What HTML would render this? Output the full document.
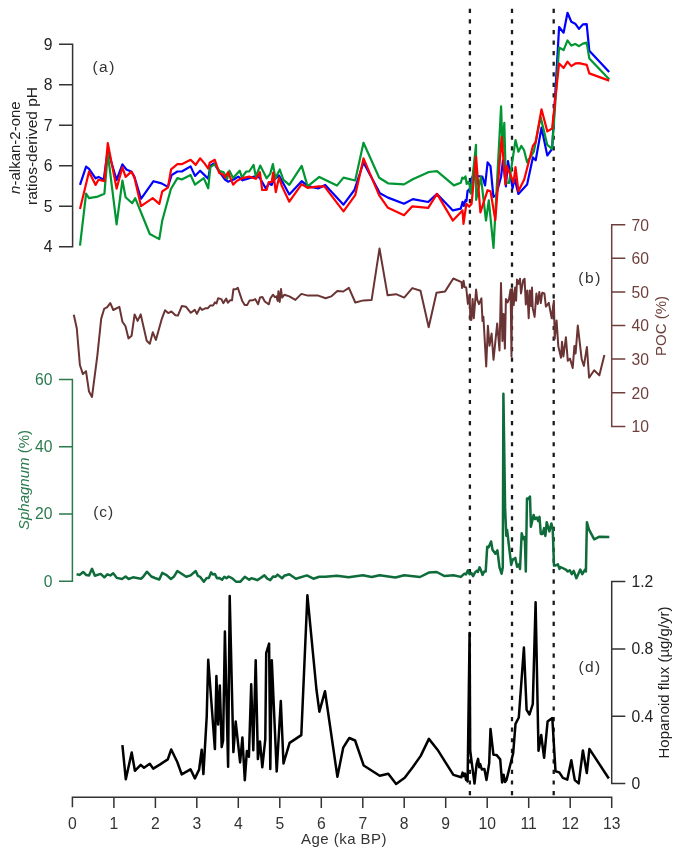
<!DOCTYPE html>
<html><head><meta charset="utf-8">
<style>
html,body{margin:0;padding:0;background:#fff;}
body{width:683px;height:856px;overflow:hidden;}
svg{display:block;font-family:"Liberation Sans",sans-serif;will-change:transform;}
</style></head>
<body>
<svg width="683" height="856" viewBox="0 0 683 856">
<!-- panel a axis -->
<g stroke="#333" stroke-width="1.5" fill="none">
<path d="M59,44.2H72.6V246.7H59 M59,84.7H72.6 M59,125.2H72.6 M59,165.7H72.6 M59,206.2H72.6"/>
</g>
<g font-size="15.7" fill="#222" text-anchor="end">
<text x="52.5" y="49.5">9</text>
<text x="52.5" y="90">8</text>
<text x="52.5" y="130.5">7</text>
<text x="52.5" y="171">6</text>
<text x="52.5" y="211.5">5</text>
<text x="52.5" y="252">4</text>
</g>
<g font-size="15" fill="#222" text-anchor="middle">
<text transform="translate(20.4,147.6) rotate(-90)"><tspan font-style="italic">n</tspan>-alkan-2-one</text>
<text transform="translate(37.3,146) rotate(-90)" font-size="15.5">ratios-derived pH</text>
</g>
<text x="92.4" y="71.8" font-size="15.5" letter-spacing="1.5" fill="#333">(a)</text>

<!-- panel b axis -->
<g stroke="#6e3f3c" stroke-width="1.5" fill="none">
<path d="M625.3,224.7H611.7V426.4H625.3 M611.7,258.3H625.3 M611.7,291.9H625.3 M611.7,325.5H625.3 M611.7,359.1H625.3 M611.7,392.7H625.3"/>
</g>
<g font-size="15.7" fill="#6e3f3c">
<text x="631.5" y="230.5">70</text>
<text x="631.5" y="264.1">60</text>
<text x="631.5" y="297.7">50</text>
<text x="631.5" y="331.3">40</text>
<text x="631.5" y="364.9">30</text>
<text x="631.5" y="398.5">20</text>
<text x="631.5" y="432.1">10</text>
</g>
<text transform="translate(665.5,326) rotate(-90)" font-size="15" fill="#6e3f3c" text-anchor="middle">POC (%)</text>
<text x="578.2" y="283.3" font-size="15.5" letter-spacing="1.7" fill="#333">(b)</text>

<!-- panel c axis -->
<g stroke="#2a7a4e" stroke-width="1.5" fill="none">
<path d="M59,379.6H72.4V581.3H59 M59,446.8H72.4 M59,514.1H72.4"/>
</g>
<g font-size="15.7" fill="#2a7a4e" text-anchor="end">
<text x="52.5" y="385">60</text>
<text x="52.5" y="452">40</text>
<text x="52.5" y="519.4">20</text>
<text x="52.5" y="586.6">0</text>
</g>
<text transform="translate(29,480) rotate(-90)" font-size="15" fill="#2a7a4e" text-anchor="middle"><tspan font-style="italic">Sphagnum</tspan> (%)</text>
<text x="93.3" y="517" font-size="15.5" letter-spacing="0.9" fill="#333">(c)</text>

<!-- panel d axis -->
<g stroke="#333" stroke-width="1.5" fill="none">
<path d="M625.3,581.6H611.7V783.6H625.3 M611.7,649H625.3 M611.7,716.3H625.3"/>
</g>
<g font-size="15.7" fill="#222">
<text x="631.5" y="587">1.2</text>
<text x="631.5" y="654.3">0.8</text>
<text x="631.5" y="721.6">0.4</text>
<text x="631.5" y="789">0</text>
</g>
<text transform="translate(668.6,682.5) rotate(-90)" font-size="15" fill="#222" text-anchor="middle">Hopanoid flux (µg/g/yr)</text>
<text x="578.4" y="671.9" font-size="15.5" letter-spacing="1.4" fill="#333">(d)</text>

<!-- x axis -->
<g stroke="#333" stroke-width="1.5" fill="none">
<path d="M72.4,807.3V797.2H611.7V808 M113.9,797.2V808 M155.4,797.2V808 M196.8,797.2V808 M238.3,797.2V808 M279.8,797.2V808 M321.3,797.2V808 M362.8,797.2V808 M404.2,797.2V808 M445.7,797.2V808 M487.2,797.2V808 M528.7,797.2V808 M570.2,797.2V808"/>
</g>
<g font-size="15.7" fill="#333" text-anchor="middle">
<text x="72.4" y="828.5">0</text>
<text x="113.9" y="828.5">1</text>
<text x="155.4" y="828.5">2</text>
<text x="196.8" y="828.5">3</text>
<text x="238.3" y="828.5">4</text>
<text x="279.8" y="828.5">5</text>
<text x="321.3" y="828.5">6</text>
<text x="362.8" y="828.5">7</text>
<text x="404.2" y="828.5">8</text>
<text x="445.7" y="828.5">9</text>
<text x="487.2" y="828.5">10</text>
<text x="528.7" y="828.5">11</text>
<text x="570.2" y="828.5">12</text>
<text x="611.7" y="828.5">13</text>
</g>
<text x="344" y="844" font-size="15" letter-spacing="0.45" fill="#333" text-anchor="middle">Age (ka BP)</text>

<!-- dashed -->
<g stroke="#1a1a1a" stroke-width="2.3" stroke-dasharray="4.2 6.37" fill="none">
<path d="M469.9,8.8V795.2 M512,8.8V795.2 M553.7,8.8V795.2"/>
</g>
<!--DATA_A-->
<g fill="none" stroke-width="2.2" stroke-linejoin="round">
<polyline stroke="#0000ff" points="80.0,184.9 86.1,166.6 89.0,168.8 95.6,178.3 98.5,176.9 103.7,179.8 107.8,150.0 116.6,180.0 122.4,164.4 126.4,169.5 131.5,171.7 134.4,176.9 141.0,198.8 153.5,181.2 161.5,183.4 167.9,186.9 171.6,175.1 177.4,171.5 181.8,171.5 190.6,166.4 195.0,175.9 200.1,170.7 203.8,174.4 208.2,178.8 210.4,165.6 214.0,163.4 219.2,171.5 225.0,179.5 228.0,181.7 233.8,179.5 238.2,176.6 242.6,180.3 248.5,178.4 254.3,176.6 259.4,177.3 265.9,188.6 268.8,183.4 271.7,184.9 273.9,179.8 279.0,175.4 289.3,194.4 301.7,181.2 308.3,186.4 318.6,188.3 325.2,184.9 343.5,204.7 354.4,190.0 363.5,162.5 379.9,193.2 388.0,197.6 404.0,203.7 412.8,199.1 428.2,202.0 437.0,193.9 452.9,210.4 460.8,208.6 462.6,201.8 463.8,205.9 465.5,200.1 466.5,201.0 467.6,190.7 469.0,190.1 470.2,187.2 471.4,178.5 472.5,176.7 477.0,176.0 482.3,176.5 485.1,185.5 487.6,162.3 490.5,166.1 493.4,196.9 496.2,195.0 501.0,177.0 503.0,160.3 505.9,186.3 508.0,161.0 512.6,188.3 514.5,178.0 518.4,194.0 527.1,184.4 532.9,157.4 535.7,160.3 541.5,127.6 547.3,155.5 552.1,148.8 559.1,27.0 563.6,32.7 567.5,12.8 571.3,21.8 575.2,23.7 579.0,28.9 582.9,24.4 586.7,24.1 589.3,50.7 609.2,72.1"/>
<polyline stroke="#009632" points="80.0,245.7 86.1,193.7 89.0,198.1 97.8,196.6 104.4,193.7 107.8,153.4 116.6,224.4 122.4,180.5 125.6,197.3 132.2,203.2 135.2,198.1 149.8,234.0 159.3,239.1 162.2,220.8 170.9,189.0 177.4,178.1 181.8,179.5 190.6,175.1 195.0,184.7 203.8,178.1 208.2,188.3 210.4,167.1 214.8,164.2 219.2,170.7 223.6,172.2 227.2,178.8 229.4,170.7 233.1,178.1 239.7,170.7 241.9,177.3 246.3,171.5 249.2,171.5 253.6,164.9 255.8,176.6 260.2,165.6 266.6,178.3 270.2,173.9 272.9,164.0 275.4,178.3 279.8,169.5 283.4,179.8 289.3,184.9 301.7,165.9 307.6,186.4 319.3,176.9 336.9,185.6 343.5,177.6 355.2,180.5 363.5,142.7 379.2,177.8 388.0,183.3 404.0,184.4 412.8,179.3 428.9,172.0 437.0,171.2 453.9,185.4 460.8,182.8 462.3,177.6 463.8,178.7 465.5,176.4 466.7,184.0 468.0,182.0 469.6,184.9 470.8,193.7 476.0,144.9 476.2,199.9 480.9,177.0 486.0,220.5 488.8,200.4 493.5,248.0 501.1,106.4 502.5,150.0 504.3,122.8 505.9,182.5 509.0,183.0 515.5,140.1 518.4,151.7 521.3,145.9 524.0,150.0 527.1,162.3 533.8,151.7 540.6,117.0 547.3,144.9 552.1,148.8 559.1,47.5 563.6,50.1 567.5,40.4 571.3,45.6 575.2,43.9 579.0,46.2 582.9,43.6 586.7,42.6 589.3,58.4 609.2,79.3"/>
<polyline stroke="#ff0000" points="80.0,209.0 89.0,171.7 95.6,184.9 98.5,179.8 104.4,181.2 107.8,143.2 116.6,188.6 122.4,167.3 125.6,176.9 131.5,171.7 134.4,177.6 141.0,206.1 152.7,198.1 159.3,203.9 162.2,191.5 167.9,187.6 171.1,169.3 177.4,164.2 181.8,164.2 190.6,159.8 195.7,164.9 200.1,158.3 204.5,163.4 208.2,168.6 209.7,162.7 214.8,159.8 219.2,172.9 222.8,174.4 225.0,177.3 228.0,172.2 233.1,184.7 236.7,181.0 242.6,178.1 249.2,176.6 255.8,178.8 259.9,172.2 262.2,190.0 266.6,190.0 268.8,182.0 271.7,182.0 273.2,172.5 275.8,192.2 279.0,177.6 282.0,186.4 289.3,201.7 301.7,184.2 307.6,187.8 318.6,186.4 324.4,186.4 343.5,211.3 355.2,195.2 363.5,158.4 379.2,195.4 388.0,207.8 404.0,215.2 412.1,206.4 428.2,207.8 437.0,193.9 452.9,220.6 462.5,210.4 463.5,223.9 466.4,203.7 469.3,206.6 471.6,203.7 476.0,156.5 480.4,212.4 487.6,190.2 490.5,191.2 495.3,220.1 501.6,137.2 505.5,184.4 506.8,166.1 513.6,182.5 515.5,167.1 518.4,191.2 524.2,179.6 532.9,145.9 535.7,142.0 541.5,109.3 547.3,131.4 552.1,128.5 559.1,63.5 563.6,68.0 567.5,61.6 571.3,66.1 575.8,63.3 579.0,63.2 586.7,64.8 589.3,73.4 609.2,80.6"/>
<polyline stroke="#6b3434" stroke-width="2" points="73.8,314.8 76.8,328.5 79.9,365.0 82.9,374.1 86.0,371.1 89.0,391.6 92.0,396.9 97.4,355.1 101.2,318.6 104.2,308.8 107.2,307.2 110.3,303.1 113.3,310.0 119.4,306.9 122.4,321.7 125.5,326.2 128.5,338.4 131.6,335.7 134.6,314.4 137.6,320.9 140.7,314.4 146.7,340.7 149.8,343.7 152.8,332.3 155.9,339.9 161.9,318.6 165.0,310.3 168.2,313.1 171.4,311.5 175.5,315.2 177.9,315.6 181.9,305.9 185.9,306.7 190.8,312.8 194.8,309.9 196.9,313.9 200.1,307.5 202.0,309.9 205.3,308.3 207.7,308.3 210.1,305.6 213.0,305.6 214.9,302.4 216.5,303.5 218.1,298.3 221.4,299.1 223.3,303.2 226.2,298.6 227.8,302.7 230.2,300.3 232.0,300.3 233.4,289.3 235.9,289.3 237.8,287.7 242.3,301.1 244.7,305.1 247.1,305.1 249.5,300.6 252.8,300.3 255.2,299.1 258.1,304.3 260.0,297.4 262.4,297.0 264.8,301.5 268.9,304.3 270.5,298.3 272.9,294.7 274.8,297.2 276.4,296.4 277.7,300.9 278.4,291.2 279.7,302.0 281.0,289.1 282.1,297.6 284.5,294.7 289.3,296.4 295.4,299.9 301.4,293.9 307.8,295.6 318.3,295.6 325.6,298.3 331.2,296.4 337.3,291.0 343.3,291.5 348.9,287.8 355.3,302.5 363.4,300.4 371.6,300.1 379.5,248.5 387.6,295.3 396.1,294.2 404.2,297.6 412.3,288.1 420.5,290.7 428.7,327.3 436.5,292.8 445.1,291.4 453.3,278.5 461.5,282.2 462.1,288.1 463.6,280.8 464.5,287.0 466.2,287.5 467.9,303.9 469.7,294.5 470.3,319.7 471.4,319.9 472.6,298.9 473.8,318.2 476.1,289.5 477.3,300.0 479.0,304.1 481.4,298.3 482.5,321.1 483.4,316.8 486.2,366.4 487.9,325.7 489.5,345.8 491.6,333.6 493.5,359.8 497.2,323.4 499.5,350.5 501.0,283.1 502.4,340.9 503.6,314.1 504.9,348.6 505.9,298.9 507.6,302.4 509.0,299.0 510.6,289.5 511.5,356.4 512.2,289.0 513.7,305.1 515.1,287.6 516.1,300.7 517.0,279.5 518.5,283.9 520.0,278.8 521.0,293.4 523.2,280.2 524.6,278.8 525.8,304.4 527.3,290.5 528.7,318.3 529.8,290.5 531.0,306.0 532.0,287.6 532.7,308.1 534.6,316.9 536.4,293.4 537.8,304.0 539.3,292.0 540.8,303.0 542.2,292.7 544.4,293.4 545.9,306.6 548.8,302.9 551.7,318.3 553.9,300.7 554.7,338.8 556.6,320.5 558.3,346.1 561.0,357.8 562.0,341.7 563.4,356.4 565.9,337.3 567.8,360.8 570.0,358.6 572.7,368.1 574.4,346.1 575.6,353.5 577.8,325.6 581.7,359.3 583.9,365.9 586.9,346.9 589.1,377.6 594.2,370.3 599.3,375.4 604.4,354.9"/>
<polyline stroke="#0e6b3a" stroke-width="2.5" points="76.6,574.3 79.5,574.9 83.2,572.0 86.1,574.9 89.0,575.4 92.0,568.8 94.9,575.8 100.7,573.9 104.4,577.3 107.3,574.3 110.3,575.4 113.2,573.2 116.9,577.9 122.0,579.0 125.6,576.5 128.6,579.0 133.0,577.3 141.0,578.7 143.2,576.8 146.9,571.7 151.3,576.5 154.9,578.0 159.3,579.5 162.2,572.9 166.6,575.1 170.9,579.0 173.8,576.8 177.4,571.0 186.2,576.8 190.6,575.4 195.7,571.0 197.9,575.8 200.1,576.8 203.8,581.7 206.7,577.9 208.9,577.9 211.1,572.4 212.8,574.5 214.8,573.9 217.0,578.3 219.2,577.9 222.1,579.8 224.3,576.8 226.5,578.3 228.7,576.5 232.3,578.3 236.0,581.7 240.4,581.7 244.8,576.8 249.2,579.8 251.3,578.3 254.3,579.0 257.2,580.2 264.4,575.4 267.3,578.7 270.2,580.1 273.2,576.4 275.4,576.8 277.6,574.6 282.0,578.3 284.2,575.8 289.3,574.3 295.9,578.7 306.9,575.4 313.4,578.7 319.3,576.8 325.2,576.8 336.9,575.7 348.6,577.3 362.9,575.2 371.7,577.0 379.6,575.2 395.4,577.5 404.2,575.2 420.0,577.0 428.8,572.6 436.7,572.0 444.6,576.1 453.4,575.2 460.9,576.9 464.4,573.7 466.0,574.5 467.9,570.2 469.6,574.3 471.3,573.0 473.1,576.1 474.9,572.6 476.7,570.8 477.8,572.0 479.6,567.3 481.2,571.0 482.5,574.9 484.3,571.4 485.7,571.4 487.2,546.8 488.5,547.5 491.1,541.5 492.5,549.7 495.4,553.8 497.4,550.3 499.5,567.3 501.6,573.7 502.8,567.3 503.4,393.7 505.1,508.1 506.3,535.7 507.1,530.0 511.2,564.9 512.4,560.3 515.3,557.9 517.1,566.7 518.8,564.4 520.0,569.0 521.7,533.3 523.5,539.2 524.8,537.0 525.8,571.4 527.0,498.4 528.3,499.0 530.0,496.5 530.9,526.8 533.6,514.9 535.0,519.0 536.9,517.5 538.2,521.0 539.5,516.9 540.8,534.0 542.6,534.0 544.1,528.1 545.4,536.0 546.7,522.2 549.4,531.4 551.4,523.5 552.7,528.7 554.0,565.6 555.3,565.6 557.9,564.3 559.5,568.9 560.5,567.0 565.8,569.6 567.8,571.5 569.8,570.2 571.8,574.2 573.7,570.9 576.4,578.2 580.3,569.6 582.3,574.2 585.0,569.6 585.9,571.5 586.9,522.2 588.9,529.4 594.2,539.3 599.4,536.7 609.3,536.9"/>
<polyline stroke="#000" stroke-width="2.5" points="122.4,745.2 125.8,779.3 131.7,752.5 134.9,770.8 140.7,764.9 144.0,767.8 149.8,763.7 153.2,768.6 159.8,764.6 167.8,759.4 171.2,749.5 177.3,762.0 181.7,774.4 190.5,769.3 194.9,778.4 199.1,769.6 201.7,749.7 203.4,774.1 206.7,716.9 208.2,659.7 214.9,749.1 216.4,676.1 218.1,724.5 219.8,685.4 221.7,747.1 223.1,740.4 224.9,631.6 228.1,766.7 229.7,596.1 233.4,752.1 235.7,721.6 240.1,762.4 242.4,737.4 244.8,780.2 246.9,750.9 248.9,756.7 251.2,684.3 253.3,750.3 255.7,660.3 257.9,759.1 260.0,741.5 262.3,767.3 265.3,739.2 266.2,653.2 269.1,643.6 270.3,769.0 271.8,660.3 276.7,771.4 280.8,701.1 283.5,763.5 289.6,742.9 301.3,735.1 307.4,595.3 316.5,690.0 319.4,711.7 325.0,691.2 337.4,776.7 343.2,747.7 349.3,738.0 355.1,740.5 363.7,765.5 379.7,775.7 388.3,773.7 396.1,783.9 404.7,777.8 412.5,767.5 420.7,755.9 428.9,738.9 437.5,749.7 453.4,774.9 461.3,777.3 462.6,772.6 463.8,776.0 465.0,773.6 466.0,779.9 467.0,777.0 467.6,781.5 469.6,632.9 470.2,750.5 471.8,763.1 474.5,783.6 476.6,764.1 478.1,758.9 479.2,767.3 480.2,764.1 481.8,769.4 484.4,768.9 486.5,779.9 489.2,763.1 490.5,728.9 493.4,754.7 496.5,754.9 500.2,759.4 502.1,782.5 503.6,774.7 505.0,782.0 506.5,779.9 513.2,753.1 515.5,723.9 518.8,717.5 523.9,647.5 526.6,709.9 529.5,714.5 532.8,704.0 535.6,602.3 538.5,750.7 541.2,735.0 544.1,757.8 547.6,721.5 552.3,718.0 555.5,771.2 559.3,772.4 562.9,777.9 567.3,779.6 571.3,760.3 574.8,780.1 578.7,783.4 582.9,750.4 586.8,773.1 589.4,748.9 608.8,778.5"/>
</g>
<!--/DATA_A-->
</svg>
</body></html>
